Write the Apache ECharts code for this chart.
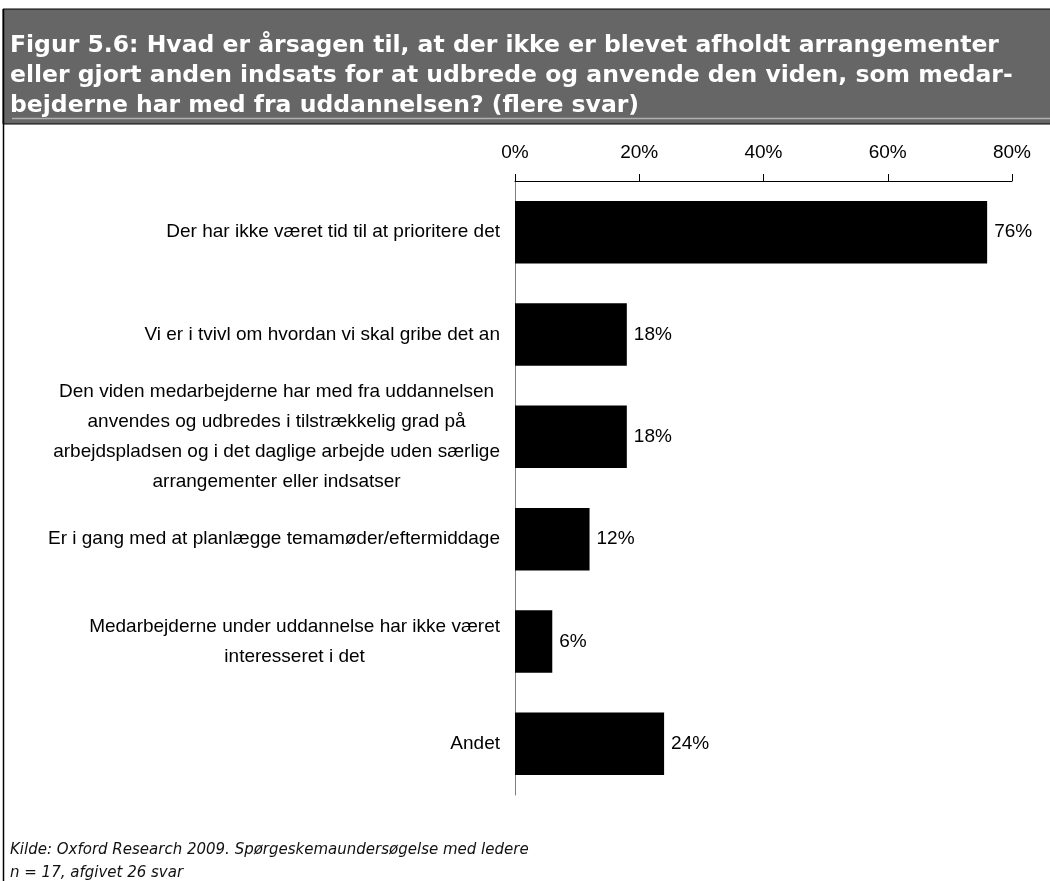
<!DOCTYPE html>
<html>
<head>
<meta charset="utf-8">
<script src="https://cdn.jsdelivr.net/npm/echarts@6/dist/echarts.min.js"></script>
<style>
  html, body { margin: 0; padding: 0; background: #fff; }
  #chart { width: 1050px; height: 881px; }
</style>
</head>
<body>
<div id="chart"></div>
<script>
// Answer categories (line breaks as wrapped in the figure)
const categories = [
  ['Der har ikke været tid til at prioritere det'],
  ['Vi er i tvivl om hvordan vi skal gribe det an'],
  ['Den viden medarbejderne har med fra uddannelsen',
   'anvendes og udbredes i tilstrækkelig grad på',
   'arbejdspladsen og i det daglige arbejde uden særlige',
   'arrangementer eller indsatser'],
  ['Er i gang med at planlægge temamøder/eftermiddage'],
  ['Medarbejderne under uddannelse har ikke været',
   'interesseret i det'],
  ['Andet']
];
// Share of respondents (%)
const values = [76, 18, 18, 12, 6, 24];
// Percentage axis ticks
const tickValues = [0, 20, 40, 60, 80];

const titleLines = [
  'Figur 5.6: Hvad er årsagen til, at der ikke er blevet afholdt arrangementer',
  'eller gjort anden indsats for at udbrede og anvende den viden, som medar-',
  'bejderne har med fra uddannelsen? (flere svar)'
];
const sourceLines = [
  'Kilde: Oxford Research 2009. Spørgeskemaundersøgelse med ledere',
  'n = 17, afgivet 26 svar'
];

const labelFont = '"Liberation Sans", Arial, sans-serif';

const chart = echarts.init(document.getElementById('chart'), null, { renderer: 'canvas' });

chart.setOption({
  backgroundColor: '#ffffff',
  animation: false,
  grid: { left: 515, right: 38, top: 181, bottom: 86, containLabel: false },
  xAxis: {
    type: 'value',
    position: 'top',
    min: tickValues[0],
    max: tickValues[tickValues.length - 1],
    interval: 20,
    axisLine: { show: true, lineStyle: { color: '#000', width: 1 } },
    axisTick: { show: true, length: 7, lineStyle: { color: '#000' } },
    splitLine: { show: false },
    axisLabel: {
      margin: 19,
      fontFamily: labelFont,
      fontSize: 19,
      color: '#000',
      formatter: v => v + '%'
    }
  },
  yAxis: {
    type: 'category',
    inverse: true,
    data: categories.map(c => c.join('\n')),
    axisLine: { show: true, lineStyle: { color: '#808080', width: 1 } },
    axisTick: { show: false },
    axisLabel: {
      margin: 15,
      align: 'right',
      interval: 0,
      formatter: v => v.split('\n').map(l => '{c|' + l + '}').join('\n'),
      rich: {
        c: {
          align: 'center',
          fontFamily: labelFont,
          fontSize: 19,
          lineHeight: 30,
          color: '#000'
        }
      }
    }
  },
  series: [{
    type: 'bar',
    data: values,
    barCategoryGap: '39%',
    itemStyle: { color: '#000' },
    label: {
      show: true,
      position: 'right',
      distance: 7,
      fontFamily: labelFont,
      fontSize: 19,
      color: '#000',
      formatter: p => p.value + '%'
    }
  }],
  graphic: [
    // heading band
    { type: 'rect', silent: true, z: -1,
      shape: { x: 3, y: 9, width: 1050, height: 115 },
      style: { fill: '#666666', stroke: '#000', lineWidth: 1 } },
    { type: 'line', silent: true,
      shape: { x1: 12, y1: 118.5, x2: 1050, y2: 118.5 },
      style: { stroke: '#b0b0b0', lineWidth: 1.5 } },
    // left frame line
    { type: 'line', silent: true,
      shape: { x1: 3.5, y1: 9, x2: 3.5, y2: 881 },
      style: { stroke: '#000', lineWidth: 1.5 } },
    { type: 'text', silent: true, left: 10, top: 31,
      style: {
        text: titleLines.join('\n'),
        fill: '#ffffff',
        font: 'bold 23.5px "DejaVu Sans", Verdana, sans-serif',
        lineHeight: 30
      } },
    { type: 'text', silent: true, left: 10, top: 839,
      style: {
        text: sourceLines.join('\n'),
        fill: '#111',
        font: 'italic 15px "DejaVu Sans", Verdana, sans-serif',
        lineHeight: 23
      } }
  ]
});
</script>
</body>
</html>
